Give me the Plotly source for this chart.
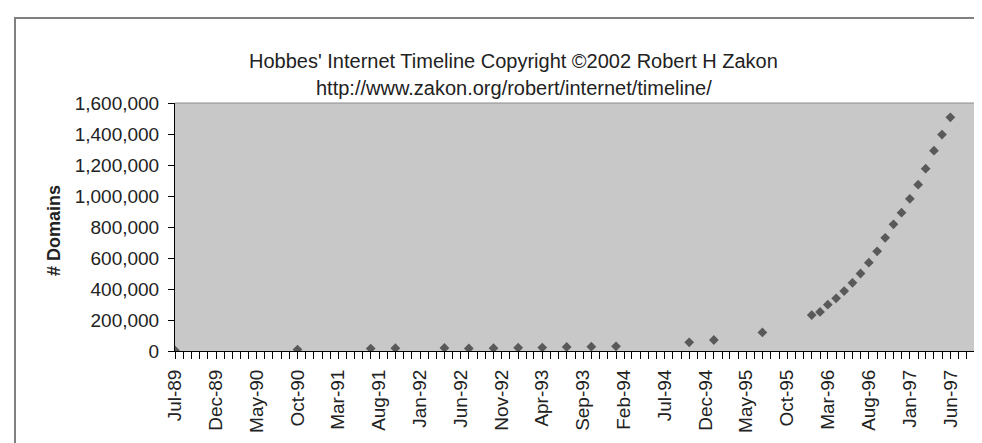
import plotly.graph_objects as go

# ---- data ----
months = ["1989-07-01", "1990-10-01", "1991-07-01", "1991-10-01", "1992-04-01",
          "1992-07-01", "1992-10-01", "1993-01-01", "1993-04-01", "1993-07-01",
          "1993-10-01", "1994-01-01", "1994-10-01", "1995-01-01", "1995-07-01",
          "1996-01-01", "1996-02-01", "1996-03-01", "1996-04-01", "1996-05-01",
          "1996-06-01", "1996-07-01", "1996-08-01", "1996-09-01", "1996-10-01",
          "1996-11-01", "1996-12-01", "1997-01-01", "1997-02-01", "1997-03-01",
          "1997-04-01", "1997-05-01", "1997-06-01"]
domains = [3900, 9300, 16000, 18000, 20000,
           16300, 18100, 21000, 22000, 26000,
           28000, 30000, 56000, 71000, 120000,
           232000, 252000, 299000, 340000, 387000,
           440000, 500000, 570000, 643000, 730000,
           817000, 892000, 982000, 1073000, 1176000,
           1292000, 1396000, 1508000]

title_line1 = "Hobbes' Internet Timeline Copyright \u00a92002 Robert H Zakon"
title_line2 = "http://www.zakon.org/robert/internet/timeline/"
y_title = "# Domains"

# ---- layout geometry (pixels) ----
W, H = 982, 443
L, R, T, B = 167, 15, 95, 100
pw, ph = W - L - R, H - T - B


def px_x(px):
    return (px - L) / pw


def px_y(py):
    return (H - B - py) / ph


FONT = "Liberation Sans, Arial, sans-serif"
TXT = "#222222"

fig = go.Figure()
fig.add_trace(go.Scatter(
    x=months, y=domains, mode="markers",
    marker=dict(symbol="diamond", size=7.5, color="#595959", line=dict(width=0)),
    showlegend=False,
))

fig.update_layout(
    width=W, height=H,
    margin=dict(l=L, r=R, t=T, b=B, pad=0),
    paper_bgcolor="white",
    plot_bgcolor="#c8c8c8",
    font=dict(family=FONT, size=19, color=TXT),
    xaxis=dict(
        type="date",
        range=["1989-07-01", "1997-09-01"],
        tick0="1989-07-01", dtick="M5", tickformat="%b-%y",
        tickangle=-90,
        ticks="outside", ticklen=7, tickcolor="black", tickwidth=1,
        ticklabelstandoff=3,
        showline=True, linecolor="black", linewidth=1,
        showgrid=False, zeroline=False,
        tickfont=dict(size=19, family=FONT, color=TXT),
        minor=dict(dtick="M1", tick0="1989-07-01", ticks="outside",
                   ticklen=7, tickcolor="black", tickwidth=1, showgrid=False),
    ),
    yaxis=dict(
        range=[0, 1600000], dtick=200000, tickformat=",d",
        ticks="outside", ticklen=6, tickcolor="black", tickwidth=1,
        ticklabelstandoff=5,
        showline=True, linecolor="black", linewidth=1,
        showgrid=False, zeroline=False,
        tickfont=dict(size=19, family=FONT, color=TXT),
    ),
    shapes=[
        # plot area top / right border
        dict(type="line", xref="paper", yref="paper", x0=0, x1=1, y0=1, y1=1,
             line=dict(color="#8a8a8a", width=1)),
        dict(type="line", xref="paper", yref="paper", x0=1, x1=1, y0=0, y1=1,
             line=dict(color="#8a8a8a", width=1)),
        # chart frame
        dict(type="rect", xref="paper", yref="paper",
             x0=px_x(7), x1=px_x(976), y0=px_y(470), y1=px_y(10),
             line=dict(color="#808080", width=2), fillcolor="rgba(0,0,0,0)"),
    ],
    annotations=[
        dict(text=title_line1, xref="paper", yref="paper",
             x=px_x(505), y=px_y(53), xanchor="center", yanchor="middle",
             showarrow=False, font=dict(size=20, family=FONT, color=TXT)),
        dict(text=title_line2, xref="paper", yref="paper",
             x=px_x(506), y=px_y(80), xanchor="center", yanchor="middle",
             showarrow=False, font=dict(size=20, family=FONT, color=TXT)),
        dict(text="<b>" + y_title + "</b>", xref="paper", yref="paper",
             x=px_x(46), y=px_y(223), xanchor="center", yanchor="middle",
             textangle=-90, showarrow=False,
             font=dict(size=18, family=FONT, color=TXT)),
    ],
)

fig.write_html("out.html")
